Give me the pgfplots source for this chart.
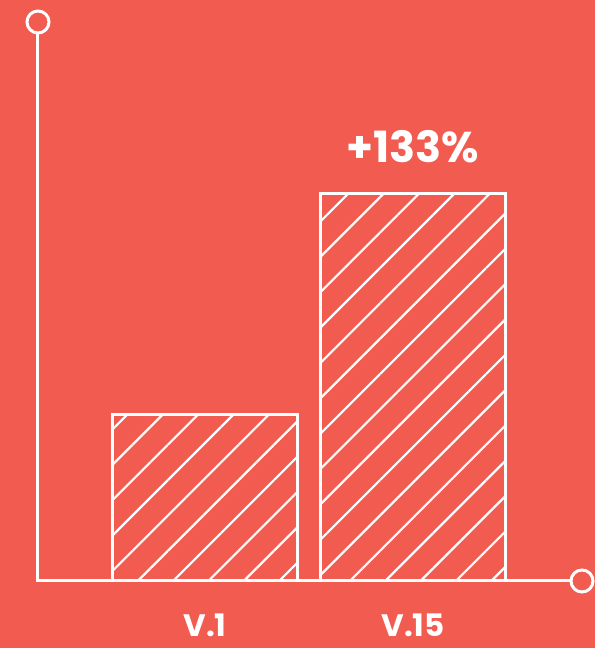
\documentclass[border=0pt]{standalone}
\usepackage{pgfplots}
\pgfplotsset{compat=1.18}
\usetikzlibrary{patterns.meta}
\usepackage{fontspec}
\setmainfont{Poppins}
\definecolor{bg}{HTML}{F25C50}
\begin{document}
\begin{tikzpicture}
\fill[bg] (0,0) rectangle (595pt,648pt);
\begin{axis}[
  at={(38pt,67pt)}, anchor=south west,
  scale only axis, width=544pt, height=559pt,
  xmin=0.197, xmax=2.8125, ymin=0, ymax=101,
  axis line style={draw=none},
  major tick length=0pt,
  ytick=\empty,
  xtick={1,2}, xticklabels={V.1,V.15},
  xticklabel style={text=white, font=\fontsize{31}{34}\selectfont\bfseries, anchor=base, inner sep=0pt, yshift=-56pt},
  clip=false,
  ybar, bar width=185pt,
]
\addplot[draw=white, line width=3pt, fill=bg,
  postaction={pattern={Lines[angle=45,distance=25pt,line width=2.2pt]}, pattern color=white}]
  coordinates {(1,30) (2,70)};
\node[text=white, font=\fontsize{43}{48}\selectfont\bfseries, anchor=base, inner sep=0pt, yshift=31pt] at (axis cs:2,70) {+133\%};
\draw[white, line width=3pt, line join=miter] (rel axis cs:0,1) -- (rel axis cs:0,0) -- (rel axis cs:1,0);
\draw[white, line width=3pt, fill=bg] (rel axis cs:0,1) circle[radius=11pt];
\draw[white, line width=3pt, fill=bg] (rel axis cs:1,0) circle[radius=11pt];
\end{axis}
\pgfresetboundingbox
\path[use as bounding box] (0,0) rectangle (595pt,648pt);
\end{tikzpicture}
\end{document}
